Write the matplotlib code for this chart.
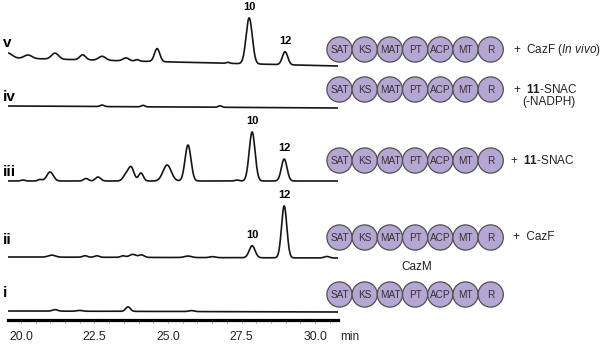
import numpy as np
import matplotlib
matplotlib.use("Agg")
import matplotlib.pyplot as plt
from matplotlib.patches import Circle
from matplotlib.ticker import MultipleLocator, FormatStrFormatter

plt.rcParams['font.family'] = ['Liberation Sans', 'DejaVu Sans']
plt.rcParams['mathtext.fontset'] = 'custom'
plt.rcParams['mathtext.rm'] = 'Liberation Sans'
plt.rcParams['mathtext.it'] = 'Liberation Sans:italic'
plt.rcParams['mathtext.bf'] = 'Liberation Sans:bold'

# ---- retention-time window (min) ----
T_START, T_END = 19.56, 30.78
TICK_LABELS = [20.0, 22.5, 25.0, 27.5, 30.0]

# ---- traces, top to bottom ----
TRACE_NAMES = ["v", "iv", "iii", "ii", "i"]
BASE_LEFT = [262, 214, 139, 63, 9]     # baseline level at start of run
BASE_RIGHT = [254, 212, 139, 62, 8]    # baseline level at end of run

# peak tables: retention time (min), height, width (sigma, min)
V_RT = [19.55, 20.24, 21.16, 22.10, 22.76, 23.57, 23.95, 24.63, 27.04, 27.76, 28.98]
V_H = [5.0, 3.5, 6.0, 5.0, 4.0, 3.0, 1.5, 13.0, 1.0, 46.0, 13.0]
V_W = [0.15, 0.13, 0.12, 0.10, 0.12, 0.10, 0.07, 0.09, 0.06, 0.105, 0.09]

IV_RT = [22.76, 24.15, 26.77]
IV_H = [1.5, 1.5, 1.5]
IV_W = [0.07, 0.06, 0.06]

III_RT = [20.07, 20.65, 20.99, 22.21, 22.62, 23.55, 23.74, 24.08, 24.97, 25.68, 27.35, 27.86, 28.95]
III_H = [1.0, 1.5, 9.0, 2.5, 4.0, 5.0, 14.0, 8.0, 16.0, 36.0, 1.0, 49.0, 22.0]
III_W = [0.07, 0.07, 0.11, 0.08, 0.09, 0.09, 0.10, 0.08, 0.14, 0.10, 0.07, 0.10, 0.095]

II_RT = [21.05, 22.18, 22.58, 23.47, 23.80, 24.10, 25.68, 26.50, 27.86, 28.95, 30.40]
II_H = [2.0, 1.5, 1.5, 1.5, 3.0, 2.5, 1.5, 1.0, 12.0, 52.0, 1.5]
II_W = [0.12, 0.08, 0.08, 0.08, 0.11, 0.09, 0.12, 0.09, 0.10, 0.09, 0.09]

I_RT = [21.16, 21.98, 23.64, 25.80]
I_H = [1.5, 0.8, 4.5, 1.0]
I_W = [0.09, 0.09, 0.08, 0.09]

PEAKS = [(V_RT, V_H, V_W), (IV_RT, IV_H, IV_W), (III_RT, III_H, III_W),
         (II_RT, II_H, II_W), (I_RT, I_H, I_W)]

# compound labels: (trace index, compound, retention time)
COMPOUND_LABELS = [(0, "10", 27.76), (0, "12", 28.98),
                   (2, "10", 27.86), (2, "12", 28.95),
                   (3, "10", 27.86), (3, "12", 28.95)]

# ---- enzyme domain architecture ----
DOMAINS = ["SAT", "KS", "MAT", "PT", "ACP", "MT", "R"]
ADDITIONS = [r"+  CazF ($\it{In\ vivo}$)", r"+  $\bf{11}$-SNAC", r"+  $\bf{11}$-SNAC",
             "+  CazF", ""]
ADDITION_NOTE = "(-NADPH)"
ENZYME_NAME = "CazM"

# ---------------------------------------------------------------
W, H = 600, 345
fig = plt.figure(figsize=(W / 100, H / 100), dpi=100)

ax = fig.add_axes([8 / W, (H - 320) / H, 330 / W, 320 / H])
ax.set_xlim(T_START, T_END)
ax.set_ylim(0, 320)

t = np.linspace(T_START, T_END, 3000)
traces = []
for (rts, hs, ws), b0, b1 in zip(PEAKS, BASE_LEFT, BASE_RIGHT):
    y = np.linspace(b0, b1, t.size)
    for rt, h, w in zip(rts, hs, ws):
        y = y + h * np.exp(-0.5 * ((t - rt) / w) ** 2)
    traces.append(y)
    ax.plot(t, y, color="#151515", lw=1.2, solid_joinstyle="round")

for idx, name, rt in COMPOUND_LABELS:
    ytop = traces[idx][np.argmin(np.abs(t - rt))]
    ax.annotate(name, (rt, ytop), xytext=(0, 7.8), textcoords="offset points",
                ha="center", va="center", fontsize=8, fontweight="bold")

for s in ["top", "left", "right"]:
    ax.spines[s].set_visible(False)
ax.spines["bottom"].set_linewidth(2.3)
ax.spines["bottom"].set_color("#000000")
ax.set_yticks([])
ax.set_xticks(TICK_LABELS)
ax.xaxis.set_major_formatter(FormatStrFormatter("%.1f"))
ax.xaxis.set_minor_locator(MultipleLocator(0.5))
ax.tick_params(axis="x", which="both", direction="out", length=2.2, width=0.6,
               color="#888888", pad=6.0, labelsize=8.8, labelcolor="#222222")
ax.patch.set_alpha(0)

# ---- overlay in figure pixel coordinates ----
ov = fig.add_axes([0, 0, 1, 1])
ov.set_xlim(0, W)
ov.set_ylim(H, 0)
ov.axis("off")
ov.patch.set_alpha(0)

label_y = [43, 97, 172, 240, 293]
for name, y in zip(TRACE_NAMES, label_y):
    ov.text(3, y, name, ha="left", va="center", fontsize=11, fontweight="bold")

row_y = [49.5, 89.5, 160.5, 237.5, 294.5]
x0, dx, r = 339.5, 25.2, 12.6
for ry in row_y:
    for k, d in enumerate(DOMAINS):
        cx = x0 + k * dx
        ov.add_patch(Circle((cx, ry), r, facecolor="#b6a6d3", edgecolor="#505050", lw=0.9))
        ov.text(cx, ry + 0.5, d, ha="center", va="center", fontsize=7.2, color="#333333")

add_x = [513, 513, 510, 513, 513]
for text, ry, ax_ in zip(ADDITIONS, row_y, add_x):
    if text:
        ov.text(ax_, ry, text, ha="left", va="center", fontsize=8.5, color="#222222")
ov.text(522, row_y[1] + 12, ADDITION_NOTE, ha="left", va="center", fontsize=8.5, color="#222222")
ov.text(417, 267, ENZYME_NAME, ha="center", va="center", fontsize=8.5, color="#222222")
ov.text(340, 337, "min", ha="left", va="center", fontsize=8.5, color="#222222")

fig.savefig("out.png", dpi=100)
